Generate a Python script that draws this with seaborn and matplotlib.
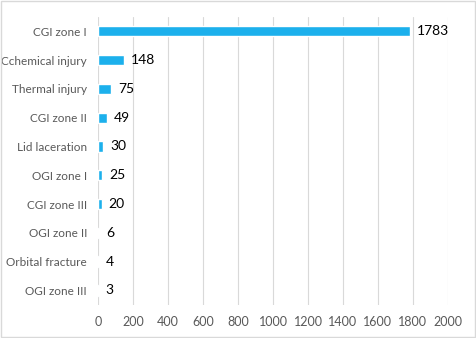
import matplotlib
matplotlib.use("Agg")
import matplotlib.pyplot as plt
import seaborn as sns
import pandas as pd
from matplotlib.patches import Rectangle

# data
categories = ["CGI zone I", "Cchemical injury", "Thermal injury", "CGI zone II",
              "Lid laceration", "OGI zone I", "CGI zone III", "OGI zone II",
              "Orbital fracture", "OGI zone III"]
counts = [1783, 148, 75, 49, 30, 25, 20, 6, 4, 3]
x_ticks = [0, 200, 400, 600, 800, 1000, 1200, 1400, 1600, 1800, 2000]

df = pd.DataFrame({"cat": categories, "n": counts})

sns.set_theme(style="white")
plt.rcParams["font.family"] = ["Lato", "DejaVu Sans"]

fig = plt.figure(figsize=(4.76, 3.38), dpi=100)
ax = fig.add_axes([0.206, 0.098, 0.735, 0.852])

sns.barplot(data=df, x="n", y="cat", color="#1CB0EC", saturation=1,
            width=0.36, ax=ax, zorder=3)

ax.set_xlim(0, 2000)
ax.set_ylim(9.5, -0.5)
ax.set_xticks(x_ticks)
ax.set_xlabel("")
ax.set_ylabel("")
ax.grid(axis="x", color="#D9D9D9", linewidth=0.8, zorder=0)
for s in ax.spines.values():
    s.set_visible(False)
ax.tick_params(axis="both", length=0, colors="#595959")
ax.tick_params(axis="x", pad=8, labelsize=9)
ax.tick_params(axis="y", pad=8, labelsize=8.5)

ax.bar_label(ax.containers[0], labels=[str(v) for v in counts], padding=5,
             fontsize=10, color="black")

# light border around whole picture
fig.patches.append(Rectangle((0.002, 0.003), 0.996, 0.994, transform=fig.transFigure,
                             fill=False, edgecolor="#D9D9D9", linewidth=1))

fig.savefig("out.png", dpi=100)
